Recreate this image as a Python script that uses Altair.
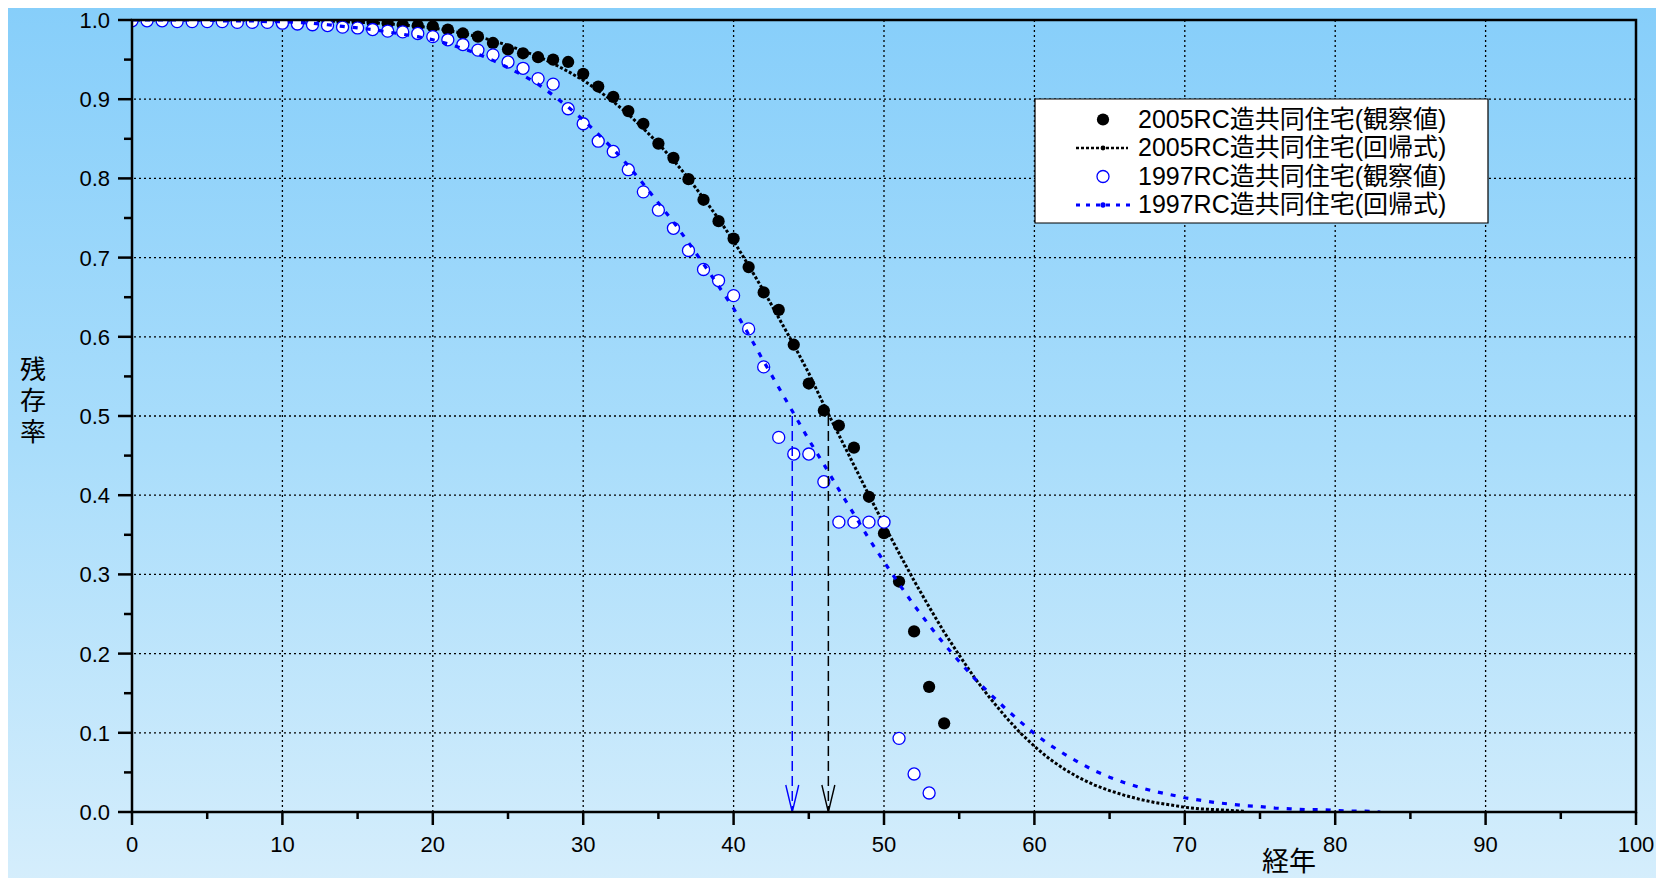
import altair as alt
import pandas as pd

# ---------------- data ----------------
obs2005_years = list(range(0, 55))
obs2005_vals = [1.000, 1.000, 1.000, 1.000, 1.000, 1.000, 1.000, 1.000, 1.000, 1.000,
                0.999, 0.999, 0.999, 0.999, 0.998, 0.998, 0.997, 0.996, 0.994, 0.993,
                0.992, 0.988, 0.983, 0.979, 0.971, 0.963, 0.958, 0.953, 0.950, 0.947,
                0.932, 0.916, 0.903, 0.885, 0.869, 0.844, 0.826, 0.799, 0.773, 0.746,
                0.724, 0.688, 0.656, 0.634, 0.590, 0.541, 0.507, 0.488, 0.460, 0.398,
                0.352, 0.291, 0.228, 0.158, 0.112]

obs1997_years = list(range(0, 54))
obs1997_vals = [0.999, 0.999, 0.999, 0.998, 0.998, 0.998, 0.998, 0.997, 0.997, 0.997,
                0.996, 0.995, 0.994, 0.993, 0.991, 0.990, 0.988, 0.986, 0.985, 0.983,
                0.979, 0.975, 0.969, 0.962, 0.956, 0.947, 0.939, 0.926, 0.919, 0.888,
                0.869, 0.847, 0.834, 0.811, 0.783, 0.760, 0.737, 0.709, 0.685, 0.671,
                0.652, 0.610, 0.562, 0.473, 0.452, 0.452, 0.417, 0.366, 0.366, 0.366,
                0.366, 0.093, 0.048, 0.024]

reg2005_years = list(range(0, 75))
reg2005_vals = [1.000, 1.000, 1.000, 1.000, 1.000, 1.000, 1.000, 1.000, 1.000, 1.000,
                1.000, 0.999, 0.999, 0.999, 0.998, 0.997, 0.997, 0.995, 0.994, 0.992,
                0.990, 0.987, 0.983, 0.979, 0.974, 0.968, 0.961, 0.954, 0.945, 0.935,
                0.924, 0.911, 0.897, 0.881, 0.863, 0.844, 0.823, 0.800, 0.775, 0.749,
                0.721, 0.690, 0.658, 0.624, 0.590, 0.554, 0.514, 0.476, 0.438, 0.400,
                0.363, 0.327, 0.292, 0.259, 0.227, 0.198, 0.170, 0.145, 0.122, 0.101,
                0.083, 0.067, 0.054, 0.043, 0.034, 0.027, 0.021, 0.016, 0.012, 0.009,
                0.006, 0.004, 0.003, 0.002, 0.001]

reg1997_years = list(range(0, 84))
reg1997_vals = [1.000, 1.000, 1.000, 1.000, 1.000, 1.000, 0.999, 0.999, 0.999, 0.998,
                0.998, 0.997, 0.996, 0.994, 0.992, 0.990, 0.988, 0.985, 0.982, 0.979,
                0.975, 0.970, 0.964, 0.957, 0.949, 0.940, 0.930, 0.919, 0.905, 0.890,
                0.874, 0.856, 0.837, 0.816, 0.793, 0.769, 0.745, 0.719, 0.692, 0.664,
                0.636, 0.603, 0.569, 0.536, 0.503, 0.470, 0.439, 0.407, 0.376, 0.345,
                0.316, 0.288, 0.261, 0.236, 0.212, 0.190, 0.169, 0.150, 0.132, 0.115,
                0.099, 0.085, 0.073, 0.062, 0.052, 0.044, 0.037, 0.031, 0.026, 0.022,
                0.018, 0.015, 0.012, 0.010, 0.008, 0.007, 0.005, 0.004, 0.003, 0.003,
                0.002, 0.001, 0.001, 0.000]

median_x_1997 = [43.9]
median_x_2005 = [46.3]
median_y = [0.5]

x_ticks = [0, 10, 20, 30, 40, 50, 60, 70, 80, 90, 100]
x_tick_labels = ["0", "10", "20", "30", "40", "50", "60", "70", "80", "90", "100"]
x_minor = [5, 15, 25, 35, 45, 55, 65, 75, 85, 95]
y_ticks = [0.0, 0.1, 0.2, 0.3, 0.4, 0.5, 0.6, 0.7, 0.8, 0.9, 1.0]
y_tick_labels = ["0.0", "0.1", "0.2", "0.3", "0.4", "0.5", "0.6", "0.7", "0.8", "0.9", "1.0"]
y_minor = [0.05, 0.15, 0.25, 0.35, 0.45, 0.55, 0.65, 0.75, 0.85, 0.95]
grid_x = [10, 20, 30, 40, 50, 60, 70, 80, 90]
grid_y = [0.1, 0.2, 0.3, 0.4, 0.5, 0.6, 0.7, 0.8, 0.9]

legend_labels = ["2005RC造共同住宅(観察値)", "2005RC造共同住宅(回帰式)",
                 "1997RC造共同住宅(観察値)", "1997RC造共同住宅(回帰式)"]

x_title = "経年"
y_title_chars = ["残", "存", "率"]

# ---------------- layout constants ----------------
W, H = 1504, 792
BLUE = "#0000ff"
LATIN = "Liberation Sans, Noto Sans CJK JP"

xscale = alt.Scale(domain=[0, 100], nice=False, zero=False)
yscale = alt.Scale(domain=[0, 1], nice=False)

df_obs05 = pd.DataFrame({"year": obs2005_years, "v": obs2005_vals})
df_obs97 = pd.DataFrame({"year": obs1997_years, "v": obs1997_vals})
df_reg05 = pd.DataFrame({"year": reg2005_years, "v": reg2005_vals})
df_reg97 = pd.DataFrame({"year": reg1997_years, "v": reg1997_vals})
df_med97 = pd.DataFrame({"year": median_x_1997, "v": median_y, "z": [0.0]})
df_med05 = pd.DataFrame({"year": median_x_2005, "v": median_y, "z": [0.0]})
df_xt = pd.DataFrame({"t": x_ticks, "lab": x_tick_labels})
df_yt = pd.DataFrame({"t": y_ticks, "lab": y_tick_labels})
dummy = pd.DataFrame({"k": [0]})


def X(field):
    return alt.X(field, scale=xscale, axis=None)


def Y(field):
    return alt.Y(field, scale=yscale, axis=None)


gradient = {"gradient": "linear", "x1": 0, "y1": 0, "x2": 0, "y2": 1,
            "stops": [{"offset": 0, "color": "#86CEFA"},
                      {"offset": 0.5, "color": "#A9DDFB"},
                      {"offset": 1, "color": "#D6EEFC"}]}

bg = alt.Chart(dummy).mark_rect(fill=gradient).encode(
    x=alt.value(-130), x2=alt.value(W + 40), y=alt.value(-20), y2=alt.value(H + 80))

gx = alt.Chart(pd.DataFrame({"g": grid_x})).mark_rule(
    color="black", strokeDash=[2, 3], strokeWidth=1.3).encode(x=X("g:Q"))
gy = alt.Chart(pd.DataFrame({"g": grid_y})).mark_rule(
    color="black", strokeDash=[2, 3], strokeWidth=1.3).encode(y=Y("g:Q"))

pts05 = alt.Chart(df_obs05).mark_point(
    shape="circle", filled=True, fill="black", strokeWidth=0,
    size=150, opacity=1, clip=True).encode(x=X("year:Q"), y=Y("v:Q"))

line05 = alt.Chart(df_reg05).mark_line(
    color="black", strokeDash=[3, 2], strokeWidth=3, clip=True).encode(
    x=X("year:Q"), y=Y("v:Q"))

pts97 = alt.Chart(df_obs97).mark_point(
    shape="circle", filled=True, fill="white", stroke=BLUE, strokeWidth=1.3,
    size=145, opacity=1, clip=True).encode(x=X("year:Q"), y=Y("v:Q"))

line97 = alt.Chart(df_reg97).mark_line(
    color=BLUE, strokeDash=[5, 8], strokeWidth=3.2, clip=True).encode(
    x=X("year:Q"), y=Y("v:Q"))


def median_marks(df, col):
    rule = alt.Chart(df).mark_rule(color=col, strokeDash=[10, 5], strokeWidth=1.5).encode(
        x=X("year:Q"), y=Y("v:Q"), y2="z:Q")
    head = alt.Chart(df).mark_point(
        shape="M-0.48,-2L0,0L0.48,-2", size=729, filled=False, stroke=col,
        strokeWidth=1.4, opacity=1).encode(x=X("year:Q"), y=Y("z:Q"))
    return [rule, head]


border = alt.Chart(dummy).mark_rect(fillOpacity=0, stroke="black", strokeWidth=2.5).encode(
    x=alt.value(0), x2=alt.value(W), y=alt.value(0), y2=alt.value(H))

# ---------------- axes drawn from the scales ----------------
xt_major = alt.Chart(df_xt).mark_rule(color="black", strokeWidth=2.5).encode(
    x=X("t:Q"), y=alt.value(H), y2=alt.value(H + 13))
xt_minor = alt.Chart(pd.DataFrame({"m": x_minor})).mark_rule(
    color="black", strokeWidth=2.5).encode(x=X("m:Q"), y=alt.value(H), y2=alt.value(H + 7))
yt_major = alt.Chart(df_yt).mark_rule(color="black", strokeWidth=2.5).encode(
    y=Y("t:Q"), x=alt.value(-14), x2=alt.value(0))
yt_minor = alt.Chart(pd.DataFrame({"m": y_minor})).mark_rule(
    color="black", strokeWidth=2.5).encode(y=Y("m:Q"), x=alt.value(-8), x2=alt.value(0))
xt_lab = alt.Chart(df_xt).mark_text(
    font=LATIN, fontSize=22, color="black", align="center", baseline="alphabetic").encode(
    x=X("t:Q"), y=alt.value(H + 40), text="lab:N")
yt_lab = alt.Chart(df_yt).mark_text(
    font=LATIN, fontSize=22, color="black", align="right", baseline="middle", dy=1).encode(
    y=Y("t:Q"), x=alt.value(-22), text="lab:N")
x_tt = alt.Chart(dummy).mark_text(
    font=LATIN, fontSize=27, color="black", align="center", baseline="middle").encode(
    x=alt.value(1157), y=alt.value(H + 51), text=alt.value(x_title))
y_tt = [alt.Chart(dummy).mark_text(
    font=LATIN, fontSize=26, color="black", align="center", baseline="middle").encode(
    x=alt.value(-99), y=alt.value(351 + 31 * i), text=alt.value(ch))
    for i, ch in enumerate(y_title_chars)]

# ---------------- legend ----------------
LX1, LX2, LY1, LY2 = 903, 1356, 79, 203
rows = [99.5, 128, 156.5, 185]
SX, TX = 971, 1006
leg = [alt.Chart(dummy).mark_rect(fill="white", stroke="black", strokeWidth=1.2).encode(
    x=alt.value(LX1), x2=alt.value(LX2), y=alt.value(LY1), y2=alt.value(LY2))]
leg.append(alt.Chart(dummy).mark_point(shape="circle", filled=True, fill="black",
                                       strokeWidth=0, size=150, opacity=1).encode(
    x=alt.value(SX), y=alt.value(rows[0])))
leg.append(alt.Chart(dummy).mark_rule(color="black", strokeDash=[3, 2], strokeWidth=2.4).encode(
    x=alt.value(944), x2=alt.value(996), y=alt.value(rows[1])))
leg.append(alt.Chart(dummy).mark_point(shape="circle", filled=True, fill="black",
                                       strokeWidth=0, size=24, opacity=1).encode(
    x=alt.value(SX), y=alt.value(rows[1])))
leg.append(alt.Chart(dummy).mark_point(shape="circle", filled=True, fill="white", stroke=BLUE,
                                       strokeWidth=1.3, size=145, opacity=1).encode(
    x=alt.value(SX), y=alt.value(rows[2])))
leg.append(alt.Chart(dummy).mark_rule(color=BLUE, strokeDash=[4, 6], strokeWidth=2.8).encode(
    x=alt.value(944), x2=alt.value(998), y=alt.value(rows[3])))
leg.append(alt.Chart(dummy).mark_point(shape="circle", filled=True, fill=BLUE,
                                       strokeWidth=0, size=28, opacity=1).encode(
    x=alt.value(SX), y=alt.value(rows[3])))
for lab, ry in zip(legend_labels, rows):
    leg.append(alt.Chart(dummy).mark_text(align="left", baseline="middle", font=LATIN,
                                          fontSize=25, color="black").encode(
        x=alt.value(TX), y=alt.value(ry), text=alt.value(lab)))

layers = [bg, gx, gy, pts05, line05, pts97, line97] + median_marks(df_med97, BLUE) + \
         median_marks(df_med05, "black") + \
         [border, xt_major, xt_minor, yt_major, yt_minor, xt_lab, yt_lab, x_tt] + y_tt + leg

chart = alt.layer(*layers).properties(
    width=W, height=H,
    padding={"left": 124, "top": 12, "right": 20, "bottom": 66},
    autosize=alt.AutoSizeParams(type="none"),
).configure_view(stroke=None)

chart.save("out.html", embed_options={"renderer": "svg", "actions": False})
